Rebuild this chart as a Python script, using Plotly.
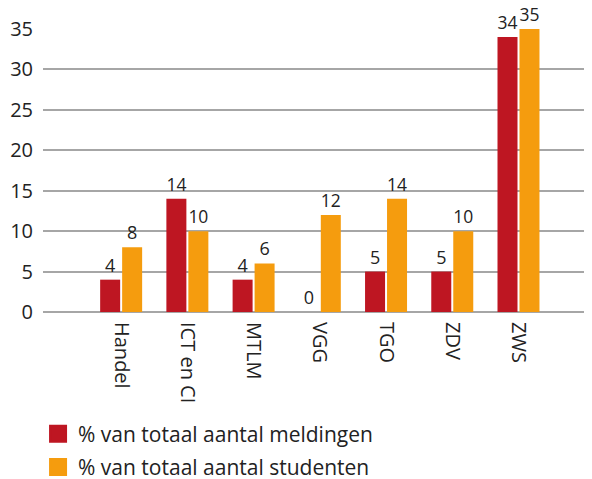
import plotly.graph_objects as go

categories = ["Handel", "ICT en CI", "MTLM", "VGG", "TGO", "ZDV", "ZWS"]
meldingen = [4, 14, 4, 0, 5, 5, 34]
studenten = [8, 10, 6, 12, 14, 10, 35]
y_ticks = [0, 5, 10, 15, 20, 25, 30, 35]
series_names = ["% van totaal aantal meldingen", "% van totaal aantal studenten"]

RED = "#BE1622"
ORANGE = "#F59C0E"
FONT = "Open Sans"
TXT = "#222222"

fig = go.Figure()
for vals, color, off in [(meldingen, RED, -0.317), (studenten, ORANGE, 0.015)]:
    fig.add_trace(go.Bar(
        x=categories, y=vals, showlegend=False,
        marker=dict(color=color, line=dict(width=0)),
        width=0.302, offset=off,
        text=[str(v) for v in vals], textposition="outside",
        textfont=dict(family=FONT, size=18, color=TXT),
        cliponaxis=False,
    ))

# legend entries (square swatches)
for name, color, grp in [(series_names[0], RED, "a"), (series_names[1], ORANGE, "b")]:
    fig.add_trace(go.Scatter(
        x=[None], y=[None], mode="markers", name=name, legendgroup=grp,
        marker=dict(symbol="square", size=16, color=color,
                    line=dict(width=2, color=color)),
    ))

# page body adds an 8px offset; figure is made tall enough that the legend
# never pushes the margins (area below the window is not photographed)
fig.update_layout(
    width=584, height=520,
    margin=dict(l=35, r=0, t=21, b=216),
    paper_bgcolor="white", plot_bgcolor="white",
    font=dict(family=FONT, size=20, color=TXT),
    barmode="overlay",
    showlegend=True,
    legend=dict(
        x=-0.009, y=-0.359, xanchor="left", yanchor="top",
        orientation="v", font=dict(family=FONT, size=21, color=TXT),
        tracegroupgap=3, itemsizing="trace",
    ),
    xaxis=dict(
        type="category", range=[-1.18, 7.11], automargin=False,
        tickangle=90, showgrid=False, showline=False, ticks="",
        tickfont=dict(family=FONT, size=20, color=TXT),
        ticklabelstandoff=9,
    ),
    yaxis=dict(
        range=[0, 35], tickvals=y_ticks, showgrid=True, automargin=False,
        gridcolor="#A6A6A6", gridwidth=1.5,
        zeroline=True, zerolinecolor="#A6A6A6", zerolinewidth=1.5,
        showline=False, ticks="",
        tickfont=dict(family=FONT, size=20, color=TXT),
        ticklabelstandoff=9,
    ),
)

fig.write_html("out.html")
